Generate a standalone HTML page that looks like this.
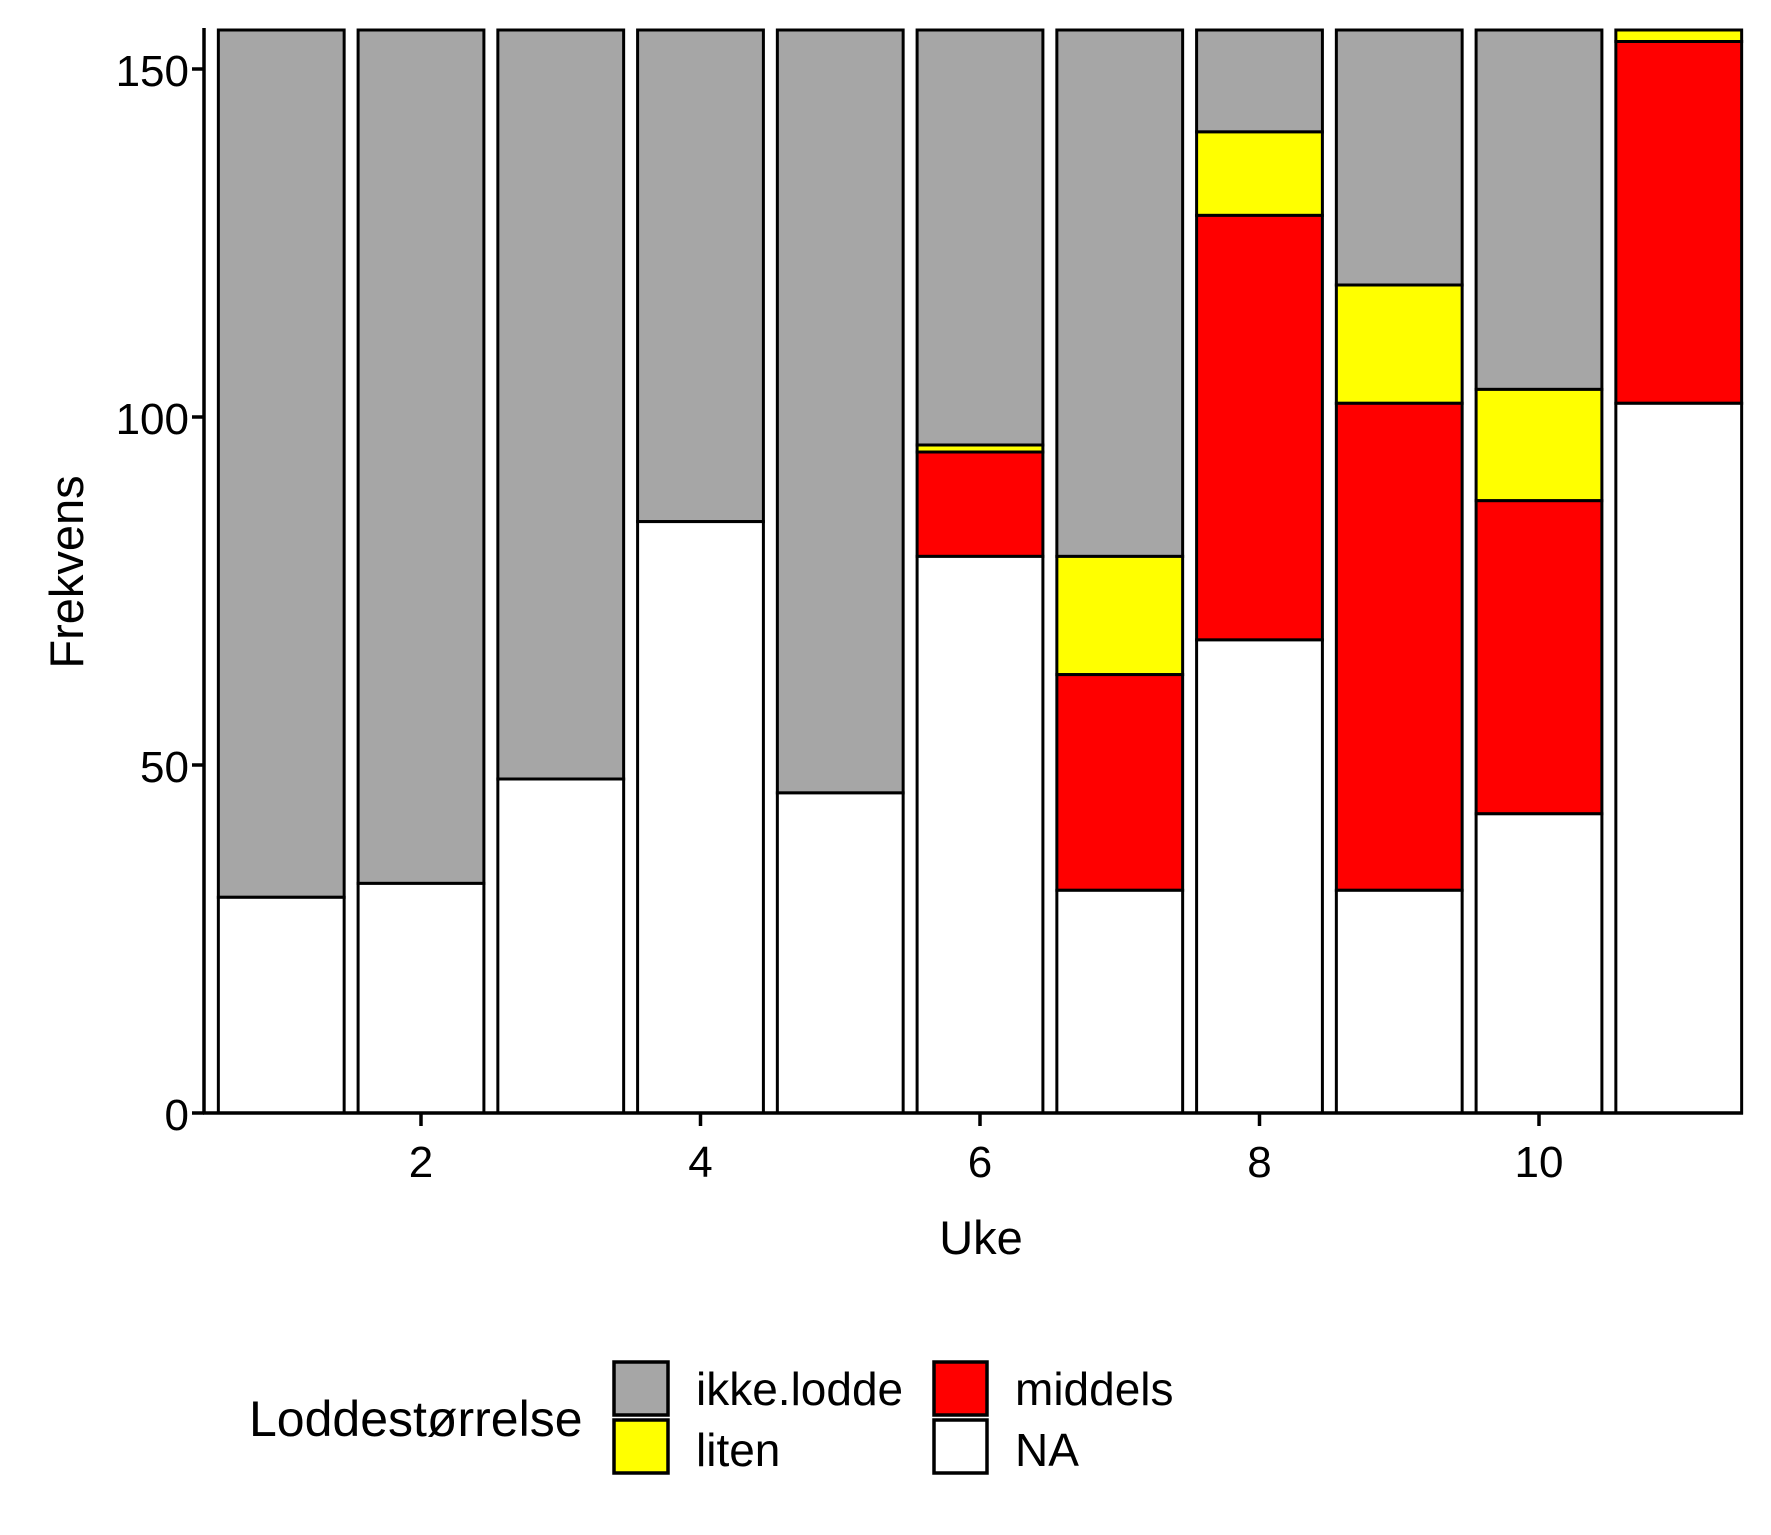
<!DOCTYPE html>
<html><head><meta charset="utf-8"><style>html,body{margin:0;padding:0;background:#fff}svg{display:block}</style></head><body>
<svg width="1771" height="1535" xmlns="http://www.w3.org/2000/svg" font-family="Liberation Sans, sans-serif">
<rect width="1771" height="1535" fill="#fff"/>
<g stroke="#000" stroke-width="3">
<!-- bar 1 -->
<rect x="218.35" y="30" width="125.8" height="867.3" fill="#a6a6a6"/>
<rect x="218.35" y="897.3" width="125.8" height="215.7" fill="#fff"/>
<!-- bar 2 -->
<rect x="358.1" y="30" width="125.8" height="853.4" fill="#a6a6a6"/>
<rect x="358.1" y="883.4" width="125.8" height="229.6" fill="#fff"/>
<!-- bar 3 -->
<rect x="497.85" y="30" width="125.8" height="749" fill="#a6a6a6"/>
<rect x="497.85" y="779" width="125.8" height="334" fill="#fff"/>
<!-- bar 4 -->
<rect x="637.6" y="30" width="125.8" height="491.6" fill="#a6a6a6"/>
<rect x="637.6" y="521.6" width="125.8" height="591.4" fill="#fff"/>
<!-- bar 5 -->
<rect x="777.35" y="30" width="125.8" height="762.9" fill="#a6a6a6"/>
<rect x="777.35" y="792.9" width="125.8" height="320.1" fill="#fff"/>
<!-- bar 6 -->
<rect x="917.1" y="30" width="125.8" height="415" fill="#a6a6a6"/>
<rect x="917.1" y="445" width="125.8" height="7" fill="#ffff00"/>
<rect x="917.1" y="452" width="125.8" height="104.4" fill="#ff0000"/>
<rect x="917.1" y="556.4" width="125.8" height="556.6" fill="#fff"/>
<!-- bar 7 -->
<rect x="1056.85" y="30" width="125.8" height="526.4" fill="#a6a6a6"/>
<rect x="1056.85" y="556.4" width="125.8" height="118.2" fill="#ffff00"/>
<rect x="1056.85" y="674.6" width="125.8" height="215.7" fill="#ff0000"/>
<rect x="1056.85" y="890.3" width="125.8" height="222.7" fill="#fff"/>
<!-- bar 8 -->
<rect x="1196.6" y="30" width="125.8" height="101.9" fill="#a6a6a6"/>
<rect x="1196.6" y="131.9" width="125.8" height="83.5" fill="#ffff00"/>
<rect x="1196.6" y="215.4" width="125.8" height="424.5" fill="#ff0000"/>
<rect x="1196.6" y="639.9" width="125.8" height="473.1" fill="#fff"/>
<!-- bar 9 -->
<rect x="1336.35" y="30" width="125.8" height="255" fill="#a6a6a6"/>
<rect x="1336.35" y="285" width="125.8" height="118.3" fill="#ffff00"/>
<rect x="1336.35" y="403.3" width="125.8" height="487" fill="#ff0000"/>
<rect x="1336.35" y="890.3" width="125.8" height="222.7" fill="#fff"/>
<!-- bar 10 -->
<rect x="1476.1" y="30" width="125.8" height="359.4" fill="#a6a6a6"/>
<rect x="1476.1" y="389.4" width="125.8" height="111.3" fill="#ffff00"/>
<rect x="1476.1" y="500.7" width="125.8" height="313.1" fill="#ff0000"/>
<rect x="1476.1" y="813.8" width="125.8" height="299.2" fill="#fff"/>
<!-- bar 11 -->
<rect x="1615.85" y="30" width="125.8" height="11.5" fill="#ffff00"/>
<rect x="1615.85" y="41.5" width="125.8" height="361.8" fill="#ff0000"/>
<rect x="1615.85" y="403.3" width="125.8" height="709.7" fill="#fff"/>
</g>
<g stroke="#000" stroke-width="3.5" fill="none">
<line x1="203" y1="1113" x2="1743" y2="1113"/>
<line x1="204" y1="28" x2="204" y2="1114"/>
<line x1="192" y1="1113" x2="204" y2="1113"/>
<line x1="192" y1="765" x2="204" y2="765"/>
<line x1="192" y1="417" x2="204" y2="417"/>
<line x1="192" y1="69" x2="204" y2="69"/>
<line x1="421" y1="1113" x2="421" y2="1126"/>
<line x1="700.5" y1="1113" x2="700.5" y2="1126"/>
<line x1="980" y1="1113" x2="980" y2="1126"/>
<line x1="1259.5" y1="1113" x2="1259.5" y2="1126"/>
<line x1="1539" y1="1113" x2="1539" y2="1126"/>
</g>
<g font-size="44" fill="#000">
<text x="189" y="1130" text-anchor="end">0</text>
<text x="189" y="782" text-anchor="end">50</text>
<text x="189" y="434" text-anchor="end">100</text>
<text x="189" y="86" text-anchor="end">150</text>
<text x="421" y="1177" text-anchor="middle">2</text>
<text x="700.5" y="1177" text-anchor="middle">4</text>
<text x="980" y="1177" text-anchor="middle">6</text>
<text x="1259.5" y="1177" text-anchor="middle">8</text>
<text x="1539" y="1177" text-anchor="middle">10</text>
</g>
<text x="981" y="1254" font-size="47" text-anchor="middle">Uke</text>
<text transform="translate(83,572) rotate(-90)" font-size="47" text-anchor="middle">Frekvens</text>
<g stroke="#000" stroke-width="3.5">
<rect x="614" y="1362" width="54" height="53" fill="#a6a6a6"/>
<rect x="614" y="1420" width="54" height="53" fill="#ffff00"/>
<rect x="934" y="1362" width="53" height="53" fill="#ff0000"/>
<rect x="934" y="1420" width="53" height="53" fill="#fff"/>
</g>
<g font-size="46">
<text x="249" y="1436" font-size="50">Loddestørrelse</text>
<text x="696" y="1405">ikke.lodde</text>
<text x="696" y="1466">liten</text>
<text x="1015" y="1405">middels</text>
<text x="1015" y="1466">NA</text>
</g>
</svg>
</body></html>
